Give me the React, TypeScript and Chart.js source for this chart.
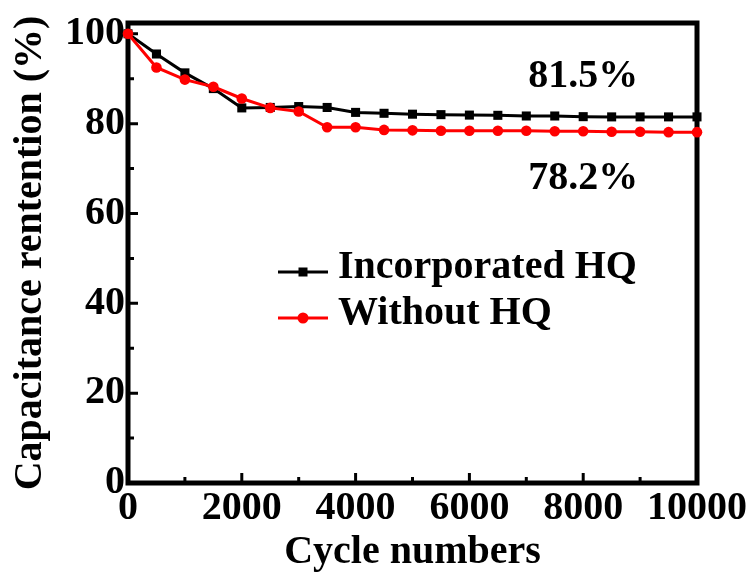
import React, { useEffect, useRef } from "react";
import { Chart, registerables } from "chart.js";

Chart.register(...registerables);

const cycles = [0, 500, 1000, 1500, 2000, 2500, 3000, 3500, 4000, 4500, 5000, 5500, 6000, 6500, 7000, 7500, 8000, 8500, 9000, 9500, 10000];
const incorporatedHQ = [100, 95.5, 91.3, 87.8, 83.5, 83.6, 83.8, 83.6, 82.5, 82.3, 82.1, 82.0, 81.9, 81.85, 81.7, 81.7, 81.55, 81.5, 81.5, 81.5, 81.5];
const withoutHQ = [100, 92.5, 89.8, 88.2, 85.6, 83.5, 82.7, 79.2, 79.2, 78.6, 78.5, 78.4, 78.4, 78.4, 78.4, 78.3, 78.3, 78.2, 78.2, 78.1, 78.1];
const seriesNames = ["Incorporated HQ", "Without HQ"];
const xTickValues = [0, 2000, 4000, 6000, 8000, 10000];
const xMinorValues = [1000, 3000, 5000, 7000, 9000];
const yTickValues = [0, 20, 40, 60, 80, 100];
const yMinorValues = [10, 30, 50, 70, 90];
const annotationTexts = ["81.5%", "78.2%"];
const annotationX = [8000, 8000];
const annotationY = [88.2, 65.5];

const FONT = "'Liberation Serif', 'Times New Roman', serif";

const framePlugin = {
  id: "frameTicks",
  beforeDatasetsDraw(chart: any) {
    const { ctx, chartArea } = chart;
    const xs = chart.scales.x;
    const ys = chart.scales.y;
    ctx.save();
    ctx.strokeStyle = "#000";
    ctx.lineWidth = 3;
    ctx.beginPath();
    xTickValues.forEach((v) => {
      const px = xs.getPixelForValue(v);
      ctx.moveTo(px, chartArea.bottom);
      ctx.lineTo(px, chartArea.bottom - 10);
    });
    xMinorValues.forEach((v) => {
      const px = xs.getPixelForValue(v);
      ctx.moveTo(px, chartArea.bottom);
      ctx.lineTo(px, chartArea.bottom - 6);
    });
    yTickValues.forEach((v) => {
      const py = ys.getPixelForValue(v);
      ctx.moveTo(chartArea.left, py);
      ctx.lineTo(chartArea.left + 10, py);
    });
    yMinorValues.forEach((v) => {
      const py = ys.getPixelForValue(v);
      ctx.moveTo(chartArea.left, py);
      ctx.lineTo(chartArea.left + 6, py);
    });
    ctx.stroke();
    ctx.lineWidth = 5;
    ctx.strokeRect(chartArea.left, chartArea.top, chartArea.right - chartArea.left, chartArea.bottom - chartArea.top);
    ctx.restore();
  },
  afterDatasetsDraw(chart: any) {
    const { ctx, chartArea } = chart;
    const xs = chart.scales.x;
    const ys = chart.scales.y;
    ctx.save();
    ctx.fillStyle = "#000";
    ctx.font = `bold 40px ${FONT}`;
    ctx.textAlign = "center";
    ctx.textBaseline = "alphabetic";
    annotationTexts.forEach((t, i) => {
      ctx.fillText(t, xs.getPixelForValue(annotationX[i]), ys.getPixelForValue(annotationY[i]));
    });
    // legend
    const lx0 = chartArea.left + 150;
    const lx1 = chartArea.left + 200;
    const tx = chartArea.left + 210;
    const baselines = [chartArea.top + 255, chartArea.top + 301];
    const datasets = chart.data.datasets;
    const order = [1, 0];
    order.forEach((di, row) => {
      const ds = datasets[di];
      const b = baselines[row];
      const ly = b - 6;
      ctx.strokeStyle = ds.borderColor;
      ctx.lineWidth = 3;
      ctx.beginPath();
      ctx.moveTo(lx0, ly);
      ctx.lineTo(lx1, ly);
      ctx.stroke();
      const cx = (lx0 + lx1) / 2;
      ctx.fillStyle = ds.pointBackgroundColor;
      if (ds.pointStyle === "rect") {
        ctx.fillRect(cx - 4.5, ly - 4.5, 9, 9);
      } else {
        ctx.beginPath();
        ctx.arc(cx, ly, 5.5, 0, Math.PI * 2);
        ctx.fill();
      }
      ctx.fillStyle = "#000";
      ctx.textAlign = "left";
      ctx.fillText(ds.label, tx, b);
    });
    ctx.restore();
  },
};

export default function App() {
  const ref = useRef<HTMLCanvasElement>(null);
  useEffect(() => {
    if (!ref.current) return;
    const chart = new Chart(ref.current, {
      type: "line",
      data: {
        datasets: [
          {
            label: seriesNames[1],
            data: cycles.map((c, i) => ({ x: c, y: withoutHQ[i] })),
            borderColor: "#ff0000",
            backgroundColor: "#ff0000",
            pointBackgroundColor: "#ff0000",
            pointBorderColor: "#ff0000",
            pointStyle: "circle",
            pointRadius: 5.3,
            pointBorderWidth: 0,
            borderWidth: 3,
            order: 0,
            clip: false,
          } as any,
          {
            label: seriesNames[0],
            data: cycles.map((c, i) => ({ x: c, y: incorporatedHQ[i] })),
            borderColor: "#000000",
            backgroundColor: "#000000",
            pointBackgroundColor: "#000000",
            pointBorderColor: "#000000",
            pointStyle: "rect",
            pointRadius: 6.4,
            pointBorderWidth: 0,
            borderWidth: 3,
            order: 1,
            clip: false,
          } as any,
        ],
      },
      options: {
        animation: false,
        responsive: false,
        maintainAspectRatio: false,
        devicePixelRatio: 1,
        layout: { padding: { top: 22, right: 53, left: 0, bottom: 0 } },
        plugins: { legend: { display: false }, tooltip: { enabled: false } },
        scales: {
          x: {
            type: "linear",
            min: 0,
            max: 10000,
            grid: { display: false, drawTicks: false },
            border: { display: false },
            afterBuildTicks: (s: any) => {
              s.ticks = xTickValues.map((v) => ({ value: v }));
            },
            afterFit: (s: any) => {
              s.height = 91;
            },
            ticks: {
              autoSkip: false,
              maxRotation: 0,
              color: "#000",
              padding: 6,
              callback: (v: any) => String(v),
              font: { family: FONT, size: 40, weight: "bold", lineHeight: 1 },
            },
            title: {
              display: true,
              text: "Cycle numbers",
              color: "#000",
              padding: { top: 0, bottom: 1 },
              font: { family: FONT, size: 40, weight: "bold", lineHeight: 1 },
            },
          },
          y: {
            type: "linear",
            min: 0,
            max: 102.4,
            grid: { display: false, drawTicks: false },
            border: { display: false },
            afterBuildTicks: (s: any) => {
              s.ticks = yTickValues.map((v) => ({ value: v }));
            },
            afterFit: (s: any) => {
              s.width = 128;
            },
            ticks: {
              color: "#000",
              padding: 3,
              callback: (v: any) => String(v),
              font: { family: FONT, size: 40, weight: "bold", lineHeight: 1 },
            },
            title: {
              display: true,
              text: "Capacitance rentention (%)",
              color: "#000",
              padding: { top: 11, bottom: 0 },
              font: { family: FONT, size: 40, weight: "bold", lineHeight: 1 },
            },
          },
        },
      } as any,
      plugins: [framePlugin],
    });
    return () => chart.destroy();
  }, []);
  return (
    <div style={{ position: "fixed", left: 0, top: 0, width: 753, height: 574, background: "#fff" }}>
      <canvas ref={ref} width={753} height={574} style={{ width: 753, height: 574, display: "block" }} />
    </div>
  );
}
